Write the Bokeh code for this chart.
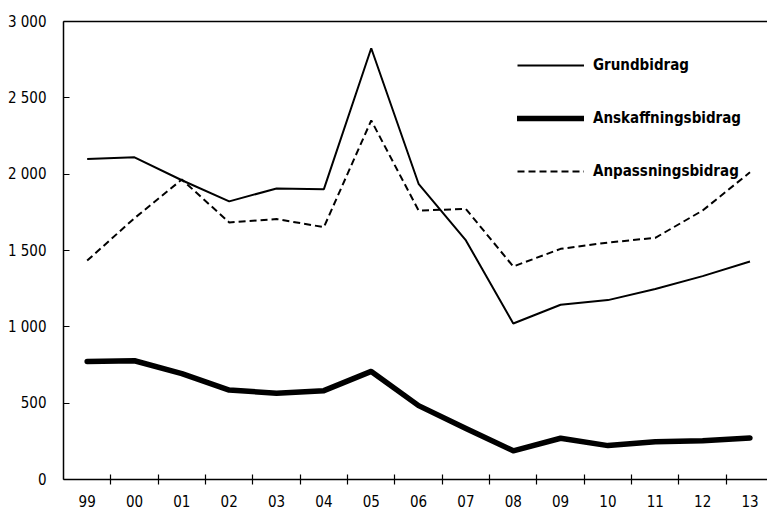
from bokeh.plotting import figure
from bokeh.models import Range1d, FixedTicker, LinearAxis, Legend, LegendItem
from bokeh.embed import file_html
from bokeh.resources import INLINE

years = ["99", "00", "01", "02", "03", "04", "05", "06", "07", "08", "09", "10", "11", "12", "13"]
grundbidrag = [2100, 2110, 1960, 1822, 1906, 1902, 2825, 1937, 1566, 1022, 1145, 1175, 1248, 1332, 1428]
anskaffningsbidrag = [773, 778, 694, 586, 565, 582, 708, 484, 334, 188, 270, 222, 247, 254, 272]
anpassningsbidrag = [1434, 1712, 1965, 1684, 1706, 1653, 2352, 1762, 1772, 1395, 1511, 1552, 1583, 1762, 2012]
y_ticks = [0, 500, 1000, 1500, 2000, 2500, 3000]
y_tick_labels = ["0", "500", "1 000", "1 500", "2 000", "2 500", "3 000"]

FONT = "'DejaVu Sans Condensed', 'Roboto Condensed', 'Open Sans Condensed', 'Noto Sans', sans-serif"

x = [i + 0.5 for i in range(len(years))]
bounds = [float(i) for i in range(1, len(years))]

p = figure(width=767, height=509, output_backend="svg", toolbar_location=None,
           x_range=Range1d(0, 14.87), y_range=Range1d(0, 3000),
           min_border_left=63, min_border_right=0, min_border_top=21, min_border_bottom=30)
p.outline_line_color = None
p.xgrid.visible = False
p.ygrid.visible = False
p.background_fill_color = "white"

# x axis
xa = p.xaxis[0]
xa.ticker = FixedTicker(ticks=x, minor_ticks=bounds)
xa.major_label_overrides = {xv: lab for xv, lab in zip(x, years)}
xa.major_tick_in = 0
xa.major_tick_out = 0
xa.minor_tick_in = 5
xa.minor_tick_out = 5
xa.minor_tick_line_color = "black"
xa.minor_tick_line_width = 1.2
xa.axis_line_color = "black"
xa.axis_line_width = 1.5
xa.major_label_text_font = FONT
xa.major_label_text_font_size = "15px"
xa.major_label_text_color = "black"
xa.major_label_standoff = 10

# y axis
ya = p.yaxis[0]
ya.ticker = FixedTicker(ticks=y_ticks)
ya.major_label_overrides = {v: lab for v, lab in zip(y_ticks, y_tick_labels)}
ya.major_tick_in = 6
ya.major_tick_out = 0
ya.major_tick_line_color = "black"
ya.major_tick_line_width = 1.2
ya.minor_tick_line_color = None
ya.axis_line_color = "black"
ya.axis_line_width = 1.5
ya.major_label_text_font = FONT
ya.major_label_text_font_size = "15px"
ya.major_label_text_color = "black"
ya.major_label_standoff = 17

# top line
top = LinearAxis(ticker=FixedTicker(ticks=[]), major_tick_in=0, major_tick_out=0,
                 minor_tick_in=0, minor_tick_out=0, major_label_text_font_size="0px",
                 axis_line_color="black", axis_line_width=1.5)
p.add_layout(top, "above")

r1 = p.line(x, grundbidrag, line_color="black", line_width=2)
r2 = p.line(x, anskaffningsbidrag, line_color="black", line_width=5.5,
            line_cap="round", line_join="round")
r3 = p.line(x, anpassningsbidrag, line_color="black", line_width=2, line_dash="7 4")

legend = Legend(items=[LegendItem(label="Grundbidrag", renderers=[r1]),
                       LegendItem(label="Anskaffningsbidrag", renderers=[r2]),
                       LegendItem(label="Anpassningsbidrag", renderers=[r3])],
                location=(454, 298), padding=0, margin=0, spacing=33,
                glyph_width=67, glyph_height=20, label_height=20, label_standoff=9,
                border_line_color=None, background_fill_alpha=0,
                label_text_font=FONT, label_text_font_style="bold",
                label_text_font_size="15px", label_text_color="black")
p.add_layout(legend, "center")

open("out.html", "w").write(file_html(p, INLINE))
